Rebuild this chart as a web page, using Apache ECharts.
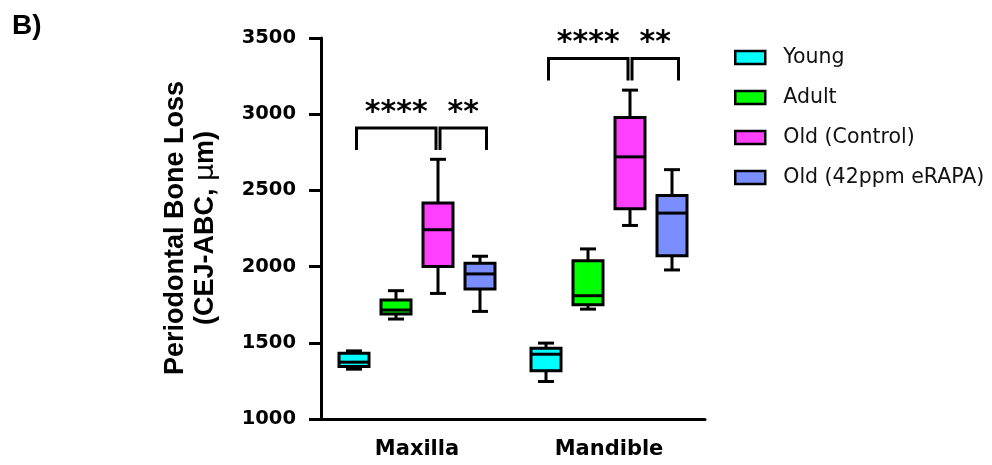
<!DOCTYPE html>
<html>
<head>
<meta charset="utf-8">
<script src="https://cdn.jsdelivr.net/npm/echarts@6/dist/echarts.min.js"></script>
<style>html,body{margin:0;padding:0;background:#fff}#c{width:992px;height:465px}</style>
</head>
<body>
<div id="c"></div>
<script>
// ---- data ----
const categories = ['Maxilla', 'Mandible'];
const groupNames = ['Young', 'Adult', 'Old (Control)', 'Old (42ppm eRAPA)'];
// each row: [min, Q1, median, Q3, max] for Maxilla, Mandible
const youngStats = [[1327, 1344, 1373, 1432, 1447], [1246, 1316, 1425, 1465, 1498]];
const adultStats = [[1656, 1689, 1715, 1781, 1842], [1721, 1750, 1809, 2039, 2116]];
const oldControlStats = [[1824, 2000, 2242, 2417, 2704], [2270, 2380, 2720, 2978, 3158]];
const oldRapaStats = [[1706, 1853, 1952, 2022, 2068], [1978, 2072, 2351, 2467, 2636]];
const yTickValues = [1000, 1500, 2000, 2500, 3000, 3500];
// significance brackets
const bracketCategory = [0, 0, 1, 1];
const bracketFrom = [0, 2, 0, 2];
const bracketTo = [2, 3, 2, 3];
const bracketY = [2910, 2910, 3366, 3366];
const bracketLabels = ['****', '**', '****', '**'];
const bracketDrop = 145;

// ---- styles ----
const colors = ['#00FFFF', '#00FF00', '#FF40FF', '#7B8EFF'];
const groupOffsetPx = [-63, -21, 21, 63];
const startShift = [2.5, 0, 2, 0];
const endShift = [0, 0, -2, 6.5];
const BOX_W = 30, CAP_W = 16, LW = 3;

const allStats = [youngStats, adultStats, oldControlStats, oldRapaStats];

function boxRenderer(gi) {
  return function (params, api) {
    const cat = api.value(0);
    const pMin = api.coord([cat, api.value(1)]);
    const pQ1 = api.coord([cat, api.value(2)]);
    const pMed = api.coord([cat, api.value(3)]);
    const pQ3 = api.coord([cat, api.value(4)]);
    const pMax = api.coord([cat, api.value(5)]);
    const cx = pMin[0] + groupOffsetPx[gi];
    const ls = { stroke: '#000', lineWidth: LW };
    return {
      type: 'group',
      children: [
        { type: 'line', shape: { x1: cx, y1: pMax[1], x2: cx, y2: pQ3[1] }, style: ls },
        { type: 'line', shape: { x1: cx, y1: pQ1[1], x2: cx, y2: pMin[1] }, style: ls },
        { type: 'line', shape: { x1: cx - CAP_W / 2, y1: pMax[1], x2: cx + CAP_W / 2, y2: pMax[1] }, style: ls },
        { type: 'line', shape: { x1: cx - CAP_W / 2, y1: pMin[1], x2: cx + CAP_W / 2, y2: pMin[1] }, style: ls },
        { type: 'rect', shape: { x: cx - BOX_W / 2, y: pQ3[1], width: BOX_W, height: pQ1[1] - pQ3[1] },
          style: { fill: colors[gi], stroke: '#000', lineWidth: LW } },
        { type: 'line', shape: { x1: cx - BOX_W / 2, y1: pMed[1], x2: cx + BOX_W / 2, y2: pMed[1] }, style: ls }
      ]
    };
  };
}

const boxSeries = groupNames.map(function (name, gi) {
  return {
    type: 'custom',
    name: name,
    itemStyle: { color: colors[gi] },
    renderItem: boxRenderer(gi),
    encode: { x: 0, y: [1, 2, 3, 4, 5] },
    data: allStats[gi].map(function (s, ci) { return [ci].concat(s); })
  };
});

const bracketSeries = {
  type: 'custom',
  name: 'brackets',
  silent: true,
  renderItem: function (params, api) {
    const i = params.dataIndex;
    const cat = api.value(0);
    const top = api.coord([cat, api.value(3)]);
    const bottom = api.coord([cat, api.value(3) - bracketDrop]);
    const x1 = top[0] + groupOffsetPx[api.value(1)] + startShift[api.value(1)];
    const x2 = top[0] + groupOffsetPx[api.value(2)] + endShift[api.value(2)];
    return {
      type: 'group',
      children: [
        { type: 'polyline', shape: { points: [[x1, bottom[1]], [x1, top[1]], [x2, top[1]], [x2, bottom[1]]] },
          style: { stroke: '#000', lineWidth: LW, fill: null } },
        { type: 'text', x: (x1 + x2) / 2, y: top[1] - 15,
          style: { text: bracketLabels[i], fill: '#000', font: 'bold 30px "DejaVu Sans"',
                   textAlign: 'center', textVerticalAlign: 'middle' } }
      ]
    };
  },
  encode: { x: 0, y: 3 },
  data: bracketCategory.map(function (c, i) { return [c, bracketFrom[i], bracketTo[i], bracketY[i]]; })
};

const chart = echarts.init(document.getElementById('c'), null, { renderer: 'canvas' });
chart.setOption({
  animation: false,
  backgroundColor: '#fff',
  grid: { left: 321, width: 384, top: 38, bottom: 46 },
  legend: {
    data: groupNames,
    orient: 'vertical',
    left: 729,
    top: 42,
    icon: 'rect',
    itemWidth: 30,
    itemHeight: 13,
    itemGap: 19,
    itemStyle: { borderColor: '#000', borderWidth: 2.5 },
    textStyle: { fontFamily: 'DejaVu Sans', fontSize: 20.5, color: '#111', lineHeight: 21, padding: [0, 0, 0, 13] }
  },
  xAxis: {
    type: 'category',
    data: categories,
    axisLine: { lineStyle: { color: '#000', width: LW } },
    axisTick: { alignWithLabel: true, length: 14, lineStyle: { color: '#000', width: LW } },
    axisLabel: { color: '#000', fontFamily: 'DejaVu Sans', fontWeight: 'bold', fontSize: 21, margin: 20 }
  },
  yAxis: {
    type: 'value',
    min: yTickValues[0],
    max: yTickValues[yTickValues.length - 1],
    interval: yTickValues[1] - yTickValues[0],
    splitLine: { show: false },
    axisLine: { show: true, lineStyle: { color: '#000', width: LW } },
    axisTick: { show: true, length: 12, lineStyle: { color: '#000', width: LW } },
    axisLabel: { color: '#000', fontFamily: 'DejaVu Sans', fontWeight: 'bold', fontSize: 19.5, margin: 25,
                 formatter: function (v) { return String(v); } }
  },
  graphic: [
    { type: 'text', left: 12, top: 12,
      style: { text: 'B)', font: 'bold 28px "Liberation Sans"', fill: '#000' } },
    { type: 'text', x: 191, y: 228, rotation: Math.PI / 2,
      style: {
        text: '{b|Periodontal Bone Loss}\n{b|(CEJ-ABC, }{m|μ}{b|m)}',
        textAlign: 'center', textVerticalAlign: 'middle',
        rich: {
          b: { font: 'bold 27px "Liberation Sans"', fill: '#000', lineHeight: 30 },
          m: { font: '27px "DejaVu Sans"', fill: '#000', lineHeight: 30 }
        }
      } }
  ],
  series: boxSeries.concat([bracketSeries])
});
</script>
</body>
</html>
